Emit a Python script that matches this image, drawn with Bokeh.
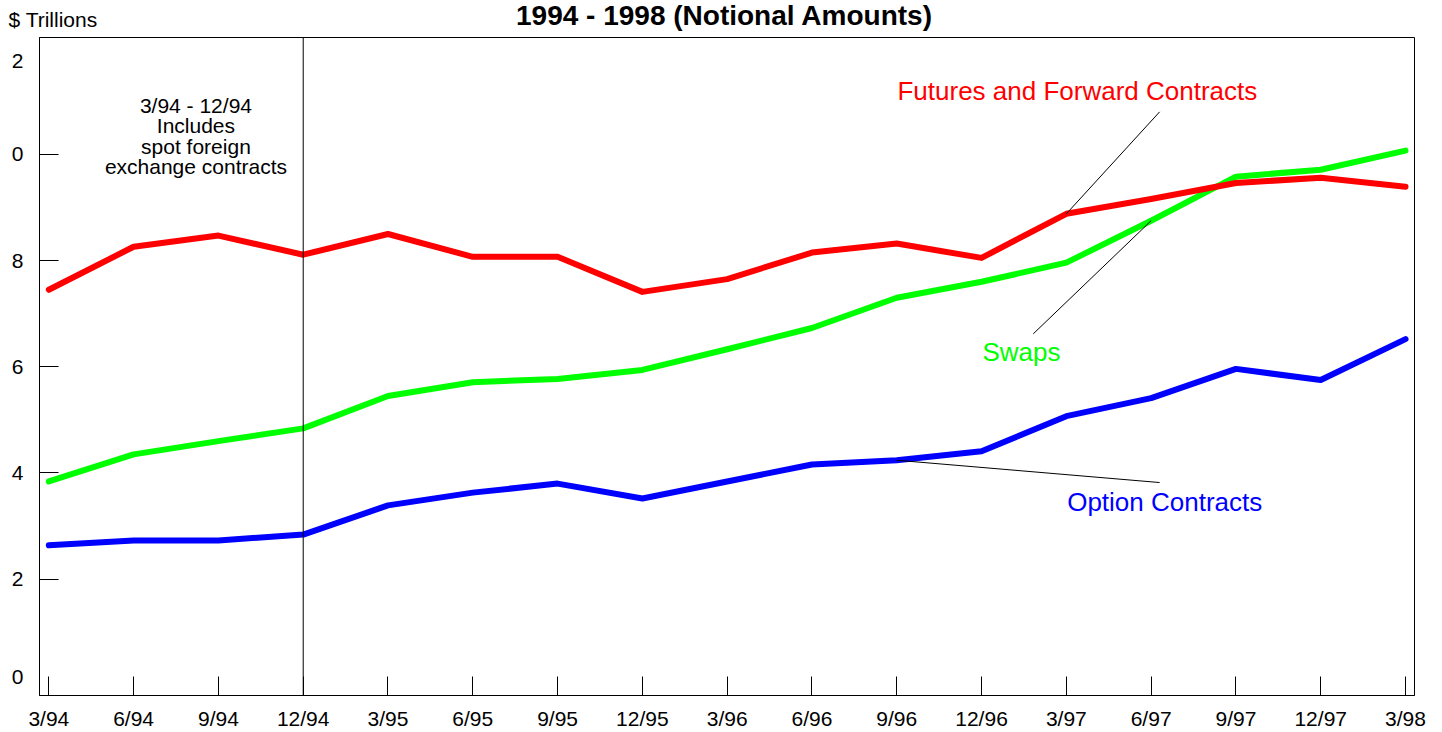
from bokeh.plotting import figure
from bokeh.models import FixedTicker, Span, Range1d, LinearAxis
from bokeh.layouts import column
from bokeh.core.properties import value
from bokeh.embed import file_html
from bokeh.resources import INLINE

# ---- data ----
quarters = ["3/94", "6/94", "9/94", "12/94", "3/95", "6/95", "9/95", "12/95",
            "3/96", "6/96", "9/96", "12/96", "3/97", "6/97", "9/97", "12/97", "3/98"]
futures = [7.45, 8.26, 8.47, 8.11, 8.50, 8.07, 8.07, 7.41, 7.65, 8.15, 8.32,
           8.05, 8.88, 9.16, 9.46, 9.56, 9.39]
swaps = [3.84, 4.35, 4.60, 4.84, 5.45, 5.71, 5.77, 5.94, 6.33, 6.73, 7.30,
         7.60, 7.96, 8.75, 9.58, 9.71, 10.07]
options = [2.64, 2.73, 2.73, 2.84, 3.39, 3.63, 3.80, 3.52, 3.84, 4.16, 4.24,
           4.41, 5.07, 5.41, 5.96, 5.75, 6.52]
y_tick_marks = [2, 4, 6, 8, 10]
y_label_pos = [0.15, 2, 4, 6, 8, 10, 11.75]
y_tick_labels = ["0", "2", "4", "6", "8", "0", "2"]
note_lines = ["3/94 - 12/94", "Includes", "spot foreign", "exchange contracts"]

FONT = "Liberation Sans"
W, H = 1442, 732
HEAD = 36
xs = list(range(len(quarters)))

# ---- header with title and unit label ----
head = figure(width=W, height=HEAD, output_backend="svg", toolbar_location=None,
              x_range=Range1d(0, W), y_range=Range1d(0, HEAD),
              x_axis_type=None, y_axis_type=None, min_border=0,
              frame_align=False)
head.outline_line_color = None
head.text(x=[8], y=[HEAD - 19], text=["$ Trillions"], text_color="black",
          text_font=value(FONT), text_font_size="21px", text_align="left",
          text_baseline="middle")
head.text(x=[724], y=[HEAD - 14.5], text=["1994 - 1998 (Notional Amounts)"],
          text_color="black", text_font=value(FONT), text_font_size="28px",
          text_font_style="bold", text_align="center", text_baseline="middle")

# ---- main chart ----
p = figure(width=W, height=H - HEAD, output_backend="svg", toolbar_location=None,
           x_range=Range1d(-0.11, 16.106), y_range=Range1d(-0.19, 12.20),
           min_border_left=39, min_border_right=28, min_border_top=1,
           min_border_bottom=37, frame_align=False)
p.xgrid.visible = False
p.ygrid.visible = False
p.outline_line_color = "black"
p.outline_line_width = 1
p.background_fill_color = "white"
p.border_fill_color = "white"

# x axis
p.xaxis.ticker = FixedTicker(ticks=xs)
p.xaxis.major_label_overrides = {i: q for i, q in enumerate(quarters)}
p.xaxis.major_tick_in = 19
p.xaxis.major_tick_out = 0
p.xaxis.minor_tick_line_color = None
p.xaxis.major_label_standoff = 11
p.xaxis.major_label_text_font = FONT
p.xaxis.major_label_text_font_size = "21px"
p.xaxis.major_label_text_color = "black"
p.xaxis.axis_line_color = "black"
p.xaxis.major_tick_line_color = "black"

# y axis: tick marks only (inner)
p.yaxis.ticker = FixedTicker(ticks=y_tick_marks)
p.yaxis.major_label_overrides = {t: "" for t in y_tick_marks}
p.yaxis.major_tick_in = 19
p.yaxis.major_tick_out = 0
p.yaxis.minor_tick_line_color = None
p.yaxis.major_label_standoff = 0
p.yaxis.axis_line_color = "black"
p.yaxis.major_tick_line_color = "black"

# y axis: labels only (outer)
ylab = LinearAxis(ticker=FixedTicker(ticks=y_label_pos),
                  major_label_overrides={t: l for t, l in zip(y_label_pos, y_tick_labels)},
                  major_tick_in=0, major_tick_out=0, minor_tick_line_color=None,
                  major_tick_line_color=None, axis_line_color=None,
                  major_label_standoff=16, major_label_text_font=FONT,
                  major_label_text_font_size="21px", major_label_text_color="black")
p.add_layout(ylab, "left")

# vertical divider at 12/94
p.add_layout(Span(location=3, dimension="height", line_color="black", line_width=1))

# series lines
for ys, col in [(options, "#0000FF"), (swaps, "#00FF00"), (futures, "#FF0000")]:
    p.line(xs, ys, line_color=col, line_width=6, line_cap="round", line_join="round")

# leader lines
p.line([12, 13.1], [futures[12], 10.8], line_color="black", line_width=1)
p.line([11.61, 13], [6.62, swaps[13]], line_color="black", line_width=1)
p.line([10, 13.1], [options[10], 3.82], line_color="black", line_width=1)

# series labels
p.text(x=[12.13], y=[11.2], text=["Futures and Forward Contracts"], text_color="#FF0000",
       text_font=value(FONT), text_font_size="26px", text_align="center",
       text_baseline="middle")
p.text(x=[11.47], y=[6.27], text=["Swaps"], text_color="#00FF00",
       text_font=value(FONT), text_font_size="26px", text_align="center",
       text_baseline="middle")
p.text(x=[13.16], y=[3.46], text=["Option Contracts"], text_color="#0000FF",
       text_font=value(FONT), text_font_size="26px", text_align="center",
       text_baseline="middle")

# note text
p.text(x=[1.735] * len(note_lines), y=[10.92 - i * 0.385 for i in range(len(note_lines))],
       text=note_lines, text_color="black", text_font=value(FONT),
       text_font_size="21px", text_align="center", text_baseline="middle")

layout = column(head, p, spacing=0)
open("out.html", "w").write(file_html(layout, INLINE))
